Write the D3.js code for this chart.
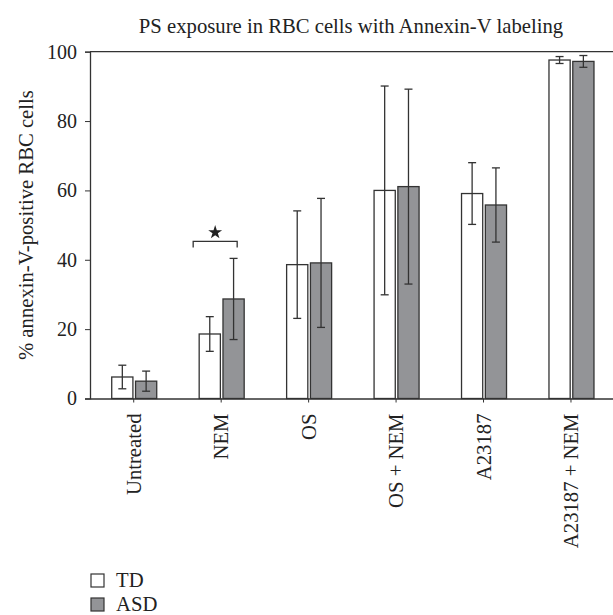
<!DOCTYPE html>
<html><head><meta charset="utf-8">
<script src="https://cdn.jsdelivr.net/npm/d3@7"></script>
<style>body{margin:0;background:#fff;} svg{display:block;font-family:"Liberation Serif","DejaVu Serif",serif;}</style>
</head><body><svg id="c" width="613" height="615"></svg>
<script>
const categories = ["Untreated","NEM","OS","OS + NEM","A23187","A23187 + NEM"];
const seriesNames = ["TD","ASD"];
const tdValues  = [6.2, 18.6, 38.6, 60.0, 59.1, 97.6];
const tdErrors  = [3.4, 5.0, 15.5, 30.1, 8.9, 1.0];
const asdValues = [5.0, 28.7, 39.1, 61.1, 55.8, 97.2];
const asdErrors = [2.9, 11.7, 18.6, 28.1, 10.7, 1.7];
const yTicks = [0,20,40,60,80,100];
const title = "PS exposure in RBC cells with Annexin-V labeling";
const yLabel = "% annexin-V-positive RBC cells";

(function(){
const svg = d3.select("#c");
const mLeft = 90, mRight = 614.7, mTop = 51.7, mBottom = 398.5;
const x = d3.scaleBand().domain(categories).range([mLeft, mRight]).padding(0);
const y = d3.scaleLinear().domain([0,100]).range([mBottom, mTop]);
const sub = d3.scaleBand().domain(seriesNames).range([-22, 23]).paddingInner(0.11);
const colors = {TD:"#ffffff", ASD:"#939497"};
const ink = "#333";
const txt = "#222";

const data = categories.map((c,i)=>({c, vals:[
  {s:"TD", v:tdValues[i], e:tdErrors[i]},
  {s:"ASD", v:asdValues[i], e:asdErrors[i]}]}));

svg.append("text").attr("x",351).attr("y",33).attr("text-anchor","middle")
  .attr("font-size",20.7).attr("fill",txt).text(title);

svg.append("line").attr("x1",mLeft).attr("x2",613).attr("y1",mTop).attr("y2",mTop)
  .attr("stroke",ink).attr("stroke-width",1.3);

const ya = svg.append("g").attr("transform",`translate(${mLeft},0)`)
  .call(d3.axisLeft(y).tickValues(yTicks).tickSize(5).tickPadding(8));
ya.select(".domain").attr("stroke",ink).attr("stroke-width",1.3);
ya.selectAll(".tick line").attr("stroke",ink);
ya.selectAll("text").attr("font-size",20).attr("font-family","Liberation Serif").attr("fill",txt);

const g = svg.append("g");
const grp = g.selectAll("g.grp").data(data).join("g")
  .attr("transform",d=>`translate(${x(d.c)+x.bandwidth()/2},0)`);
grp.selectAll("rect").data(d=>d.vals).join("rect")
  .attr("x",d=>sub(d.s)).attr("width",sub.bandwidth())
  .attr("y",d=>y(d.v)).attr("height",d=>y(0)-y(d.v))
  .attr("fill",d=>colors[d.s]).attr("stroke",ink).attr("stroke-width",1.3);
const eb = grp.selectAll("g.eb").data(d=>d.vals).join("g").attr("class","eb")
  .attr("transform",d=>`translate(${sub(d.s)+sub.bandwidth()/2},0)`);
eb.append("line").attr("x1",0).attr("x2",0).attr("y1",d=>y(d.v+d.e)).attr("y2",d=>y(d.v-d.e))
  .attr("stroke",ink).attr("stroke-width",1.3);
eb.append("line").attr("x1",-4).attr("x2",4).attr("y1",d=>y(d.v+d.e)).attr("y2",d=>y(d.v+d.e))
  .attr("stroke",ink).attr("stroke-width",1.3);
eb.append("line").attr("x1",-4).attr("x2",4).attr("y1",d=>y(d.v-d.e)).attr("y2",d=>y(d.v-d.e))
  .attr("stroke",ink).attr("stroke-width",1.3);

const xa = svg.append("g").attr("transform",`translate(0,${mBottom})`)
  .call(d3.axisBottom(x).tickSize(4).tickSizeOuter(0).tickPadding(6));
xa.select(".domain").attr("stroke",ink).attr("stroke-width",1.3);
xa.selectAll(".tick line").attr("stroke",ink);
xa.selectAll("text").attr("font-size",20.7).attr("font-family","Liberation Serif").attr("fill",txt)
  .attr("text-anchor","end").attr("dy","0.35em")
  .attr("transform","translate(0,15) rotate(-90)").attr("x",0).attr("y",0);

const nemC = x("NEM")+x.bandwidth()/2;
const bx1 = nemC-28, bx2 = nemC+16, by = y(45.3);
svg.append("path").attr("d",`M${bx1},${by+6}V${by}H${bx2}V${by+6}`)
  .attr("fill","none").attr("stroke",ink).attr("stroke-width",1.3);
svg.append("path").attr("d",d3.symbol(d3.symbolStar,60)())
  .attr("transform",`translate(${(bx1+bx2)/2},${by-9})`).attr("fill","#222");

svg.append("text").attr("transform",`translate(33,${(mTop+mBottom)/2}) rotate(-90)`)
  .attr("text-anchor","middle").attr("font-size",20.7).attr("fill",txt).text(yLabel);

const lg = svg.append("g").attr("transform","translate(91,574)");
lg.selectAll("g").data(seriesNames).join("g")
  .attr("transform",(d,i)=>`translate(0,${i*24})`)
  .each(function(d){
    const s = d3.select(this);
    s.append("rect").attr("width",13).attr("height",13).attr("fill",colors[d]).attr("stroke",ink).attr("stroke-width",1.2);
    s.append("text").attr("x",25).attr("y",13).attr("font-size",20.7).attr("fill",txt).text(d);
  });
})();
</script></body></html>
